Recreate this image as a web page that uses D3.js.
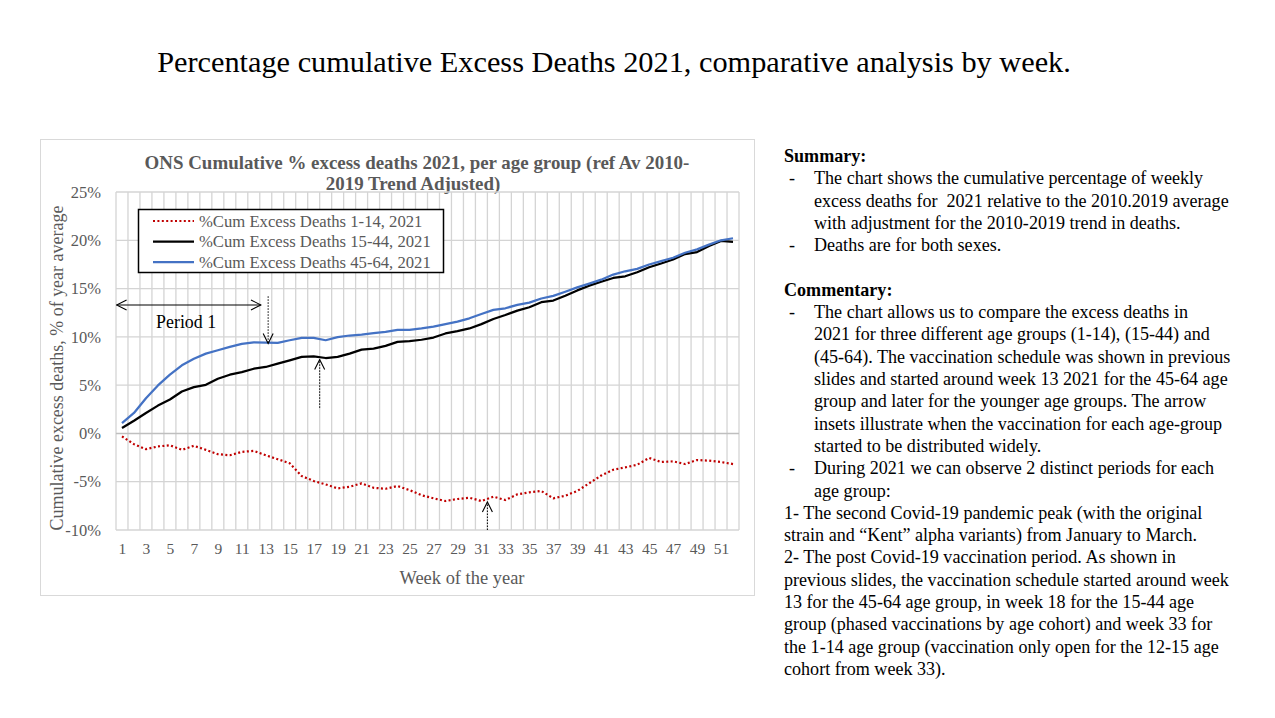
<!DOCTYPE html>
<html><head><meta charset="utf-8">
<script src="https://cdn.jsdelivr.net/npm/d3@7"></script>
<style>
html,body{margin:0;padding:0;background:#fff;}
svg{display:block;}
text{font-family:"Liberation Serif","DejaVu Serif",serif;white-space:pre;}
</style></head>
<body>
<svg id="c" width="1275" height="718"></svg>
<script>
// ---------------- data ----------------
const weeks = [1,2,3,4,5,6,7,8,9,10,11,12,13,14,15,16,17,18,19,20,21,22,23,24,25,26,
  27,28,29,30,31,32,33,34,35,36,37,38,39,40,41,42,43,44,45,46,47,48,49,50,51,52];
const cumExcess1to14 = [-0.31,-1.11,-1.63,-1.35,-1.22,-1.70,-1.28,-1.70,-2.15,-2.26,-1.91,-1.81,-2.26,-2.67,-3.09,-4.41,-4.93,-5.28,-5.69,-5.52,-5.17,-5.63,-5.73,-5.45,-5.87,-6.40,
  -6.72,-7.00,-6.79,-6.66,-7.00,-6.55,-6.90,-6.31,-6.10,-5.96,-6.72,-6.45,-5.96,-5.16,-4.36,-3.76,-3.52,-3.24,-2.54,-2.96,-2.89,-3.17,-2.75,-2.82,-2.96,-3.17];
const cumExcess15to44 = [0.56,1.32,2.12,2.88,3.51,4.34,4.79,5.03,5.66,6.08,6.35,6.70,6.88,7.22,7.57,7.92,7.99,7.81,7.92,8.26,8.68,8.78,9.06,9.48,9.55,9.70,
  9.93,10.35,10.59,10.87,11.32,11.85,12.26,12.72,13.07,13.59,13.76,14.25,14.81,15.30,15.71,16.10,16.27,16.69,17.21,17.60,18.01,18.57,18.78,19.41,19.93,19.83];
const cumExcess45to64 = [1.07,2.12,3.65,4.97,6.08,7.05,7.74,8.26,8.61,8.96,9.27,9.44,9.41,9.38,9.65,9.90,9.90,9.65,9.97,10.14,10.24,10.38,10.52,10.73,10.73,10.87,
  11.05,11.32,11.57,11.92,12.37,12.79,12.96,13.31,13.55,13.97,14.25,14.67,15.12,15.51,15.92,16.45,16.79,17.04,17.49,17.84,18.19,18.71,19.06,19.55,20.00,20.21];
const seriesNames = ["%Cum Excess Deaths 1-14, 2021","%Cum Excess Deaths 15-44, 2021","%Cum Excess Deaths 45-64, 2021"];
const yTicks = [-10,-5,0,5,10,15,20,25];
const xTickLabels = [1,3,5,7,9,11,13,15,17,19,21,23,25,27,29,31,33,35,37,39,41,43,45,47,49,51];
// annotation arrows: [week, valueFrom, valueTo]
const vaccArrows = [[13.2,14.2,9.3],[17.5,2.65,7.65],[31.5,-10,-7.1]];
const periodArrow = [0.55,12.6,13.3];

const mainTitle = "Percentage cumulative Excess Deaths 2021, comparative analysis by week.";
const chartTitle = ["ONS Cumulative % excess deaths 2021, per age group (ref Av 2010-","2019 Trend Adjusted)"];
const yTitle = "Cumulative excess deaths, % of year average";
const xTitle = "Week of the year";

const sideText = [
 {t:"Summary:", bold:true},
 {t:"The chart shows the cumulative percentage of weekly", dash:true},
 {t:"excess deaths for  2021 relative to the 2010.2019 average", ind:true},
 {t:"with adjustment for the 2010-2019 trend in deaths.", ind:true},
 {t:"Deaths are for both sexes.", dash:true},
 {t:""},
 {t:"Commentary:", bold:true},
 {t:"The chart allows us to compare the excess deaths in", dash:true},
 {t:"2021 for three different age groups (1-14), (15-44) and", ind:true},
 {t:"(45-64). The vaccination schedule was shown in previous", ind:true},
 {t:"slides and started around week 13 2021 for the 45-64 age", ind:true},
 {t:"group and later for the younger age groups. The arrow", ind:true},
 {t:"insets illustrate when the vaccination for each age-group", ind:true},
 {t:"started to be distributed widely.", ind:true},
 {t:"During 2021 we can observe 2 distinct periods for each", dash:true},
 {t:"age group:", ind:true},
 {t:"1- The second Covid-19 pandemic peak (with the original"},
 {t:"strain and \u201cKent\u201d alpha variants) from January to March."},
 {t:"2- The post Covid-19 vaccination period. As shown in"},
 {t:"previous slides, the vaccination schedule started around week"},
 {t:"13 for the 45-64 age group, in week 18 for the 15-44 age"},
 {t:"group (phased vaccinations by age cohort) and week 33 for"},
 {t:"the 1-14 age group (vaccination only open for the 12-15 age"},
 {t:"cohort from week 33)."}
];

// ---------------- drawing ----------------
const svg = d3.select("#c");
const grey = "#595959";

function fitWidth(sel, target){
  const node = sel.node();
  const fs = parseFloat(sel.attr("font-size"));
  const w = node.getComputedTextLength();
  if (w > 0) sel.attr("font-size", (fs*target/w).toFixed(2));
  return sel;
}

// main title
svg.append("text").attr("x",614).attr("y",62).attr("text-anchor","middle")
  .attr("dominant-baseline","central").attr("font-size",28).attr("fill","#000")
  .text(mainTitle).call(s=>fitWidth(s,914));

// chart frame
svg.append("rect").attr("x",40.5).attr("y",139.5).attr("width",714).attr("height",456)
  .attr("fill","#fff").attr("stroke","#d9d9d9").attr("stroke-width",1);

const L=116, R=739, T=192, B=530;
const x = d3.scaleLinear().domain([0.5,52.5]).range([L,R]);
const y = d3.scaleLinear().domain([-10,25]).range([B,T]);

// chart title
const ct1 = svg.append("text").attr("x",417).attr("y",162).attr("text-anchor","middle")
  .attr("dominant-baseline","central").attr("font-size",16).attr("font-weight","bold").attr("fill",grey)
  .text(chartTitle[0]);
fitWidth(ct1,545);
svg.append("text").attr("x",413).attr("y",183.5).attr("text-anchor","middle")
  .attr("dominant-baseline","central").attr("font-size",ct1.attr("font-size")).attr("font-weight","bold").attr("fill",grey)
  .text(chartTitle[1]);

// gridlines
const g = svg.append("g");
g.selectAll("line.v").data(d3.range(0,53)).join("line")
  .attr("x1",d=>x(d+0.5)).attr("x2",d=>x(d+0.5))
  .attr("y1",T).attr("y2",B).attr("stroke","#d4d4d4").attr("stroke-width",1.3);
g.selectAll("line.h").data(yTicks).join("line")
  .attr("x1",L).attr("x2",R).attr("y1",d=>y(d)).attr("y2",d=>y(d))
  .attr("stroke",d=>d===0?"#bfbfbf":"#d4d4d4").attr("stroke-width",d=>d===0?1.5:1.3);

// axes (D3 axes, styled like Excel)
const yAxis = svg.append("g").attr("transform",`translate(${L},0)`)
  .call(d3.axisLeft(y).tickValues(yTicks).tickSize(0).tickPadding(15).tickFormat(d=>d+"%"));
yAxis.select(".domain").remove();
yAxis.selectAll("text").attr("font-family","Liberation Serif, serif").attr("font-size",16.5).attr("fill",grey);

const xAxis = svg.append("g").attr("transform",`translate(0,${B})`)
  .call(d3.axisBottom(x).tickValues(xTickLabels).tickSize(0).tickPadding(13).tickFormat(d=>d));
xAxis.select(".domain").remove();
xAxis.selectAll("text").attr("font-family","Liberation Serif, serif").attr("font-size",15.5).attr("fill",grey);

// axis titles
svg.append("text").attr("transform","translate(57,368) rotate(-90)").attr("text-anchor","middle")
  .attr("dominant-baseline","central").attr("font-size",17).attr("fill",grey).text(yTitle)
  .call(s=>fitWidth(s,325));
svg.append("text").attr("x",462).attr("y",578).attr("text-anchor","middle")
  .attr("dominant-baseline","central").attr("font-size",17).attr("fill",grey).text(xTitle)
  .call(s=>fitWidth(s,125));

// lines
const series = [
  {vals:cumExcess1to14, color:"#c00000", width:2.2, dash:"2,2.4"},
  {vals:cumExcess15to44, color:"#000000", width:2.25, dash:null},
  {vals:cumExcess45to64, color:"#4472c4", width:2.25, dash:null}
];
const line = d3.line().x((d,i)=>x(weeks[i])).y(d=>y(d));
svg.append("g").selectAll("path").data(series).join("path")
  .attr("d",d=>line(d.vals)).attr("fill","none").attr("stroke",d=>d.color)
  .attr("stroke-width",d=>d.width).attr("stroke-dasharray",d=>d.dash)
  .attr("stroke-linejoin","round");

// legend
const lg = svg.append("g");
lg.append("rect").attr("x",138.5).attr("y",209.5).attr("width",305).attr("height",63)
  .attr("fill","#fff").attr("stroke","#000").attr("stroke-width",1.5);
const legY = [221,241.5,262];
let legFs = null;
series.forEach((s,i)=>{
  lg.append("line").attr("x1",153).attr("x2",194).attr("y1",legY[i]).attr("y2",legY[i])
    .attr("stroke",s.color).attr("stroke-width",s.width).attr("stroke-dasharray",s.dash);
  const t = lg.append("text").attr("x",199).attr("y",legY[i]).attr("dominant-baseline","central")
    .attr("font-size",16).attr("fill",grey).text(seriesNames[i]);
  if (i===1){ fitWidth(t,232); legFs = t.attr("font-size"); }
});
lg.selectAll("text").attr("font-size",legFs);

// annotations
const defs = svg.append("defs");
function chevron(id){
  defs.append("marker").attr("id",id).attr("viewBox","0 0 12 12").attr("refX",11).attr("refY",6)
    .attr("markerWidth",12).attr("markerHeight",12).attr("markerUnits","userSpaceOnUse")
    .attr("orient","auto-start-reverse")
    .append("path").attr("d","M1,1 L11,6 L1,11").attr("fill","none").attr("stroke","#000").attr("stroke-width",1.1);
}
chevron("chev");
const ann = svg.append("g");
ann.append("line").attr("x1",x(periodArrow[0])).attr("x2",x(periodArrow[1]))
  .attr("y1",y(periodArrow[2])).attr("y2",y(periodArrow[2]))
  .attr("stroke","#000").attr("stroke-width",1.2)
  .attr("marker-start","url(#chev)").attr("marker-end","url(#chev)");
ann.append("text").attr("x",x(6.35)).attr("y",y(11.5)).attr("text-anchor","middle")
  .attr("dominant-baseline","central").attr("font-size",17.5).attr("fill","#000").text("Period 1")
  .call(s=>fitWidth(s,60));
ann.selectAll("line.va").data(vaccArrows).join("line")
  .attr("x1",d=>x(d[0])).attr("x2",d=>x(d[0])).attr("y1",d=>y(d[1])).attr("y2",d=>y(d[2]))
  .attr("stroke","#000").attr("stroke-width",1).attr("stroke-dasharray","1.5,1.5")
  .attr("marker-end","url(#chev)");

// side text
const sx = 784, lineH = 22.3, sy0 = 156;
const st = svg.append("g");
let bodyFs = 16.5;
const probe = st.append("text").attr("font-size",16.5).text(sideText[1].t);
fitWidth(probe,389); bodyFs = +probe.attr("font-size"); probe.remove();
sideText.forEach((d,i)=>{
  const yy = sy0 + i*lineH;
  if (!d.t) return;
  if (d.dash) st.append("text").attr("x",789).attr("y",yy).attr("dominant-baseline","central")
     .attr("font-size",bodyFs).text("-");
  st.append("text").attr("x",(d.dash||d.ind)?814:sx).attr("y",yy).attr("dominant-baseline","central")
    .attr("font-size",bodyFs).attr("font-weight",d.bold?"bold":null).attr("fill","#000").text(d.t);
});
</script>
</body></html>
